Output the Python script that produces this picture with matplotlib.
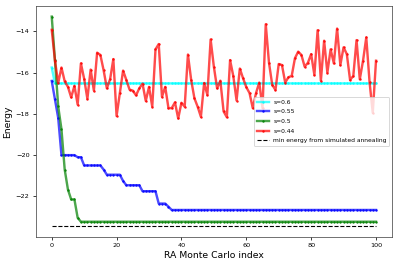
import numpy as np
import matplotlib
matplotlib.use('Agg')
import matplotlib.pyplot as plt

# energies, one value per RA Monte Carlo step (0..100)
e_s060 = [-15.75] + [-16.52] * 100

e_s055 = [-16.4, -17.3, -18.2, -20.0, -20.0, -20.0, -20.0, -20.0, -20.1, -20.1,
          -20.5, -20.5, -20.5, -20.5, -20.5, -20.5, -20.7, -20.95, -20.95, -20.95,
          -20.95, -20.95, -21.25, -21.46, -21.46, -21.46, -21.46, -21.46, -21.75, -21.75,
          -21.75, -21.75, -21.75, -22.35, -22.35, -22.35, -22.5] + [-22.66] * 64

e_s050 = [-13.28, -15.4, -17.64, -18.74, -20.7, -21.67, -22.15, -22.15, -23.04] + [-23.23] * 92

e_s044 = [-13.92, -15.42, -16.5, -15.75, -16.42, -16.69, -17.2, -16.64, -17.55, -15.55,
          -16.3, -17.27, -15.85, -16.87, -15.03, -15.14, -15.88, -16.76, -16.32, -15.34,
          -18.1, -17.0, -15.9, -16.35, -16.82, -16.87, -17.1, -16.76, -16.53, -17.37,
          -16.69, -17.65, -14.87, -14.61, -17.17, -16.69, -17.72, -17.72, -17.44, -18.22,
          -17.46, -17.65, -15.12, -16.35, -17.24, -17.65, -18.14, -16.5, -17.08, -14.39,
          -15.71, -16.76, -16.39, -17.88, -18.16, -15.39, -16.17, -17.35, -15.8, -16.27,
          -16.7, -16.99, -17.72, -16.99, -16.48, -17.72, -13.65, -15.52, -16.59, -16.84,
          -15.58, -15.63, -16.48, -16.22, -16.16, -15.3, -14.98, -15.14, -15.71, -15.52,
          -15.1, -16.11, -13.94, -16.39, -14.45, -16.0, -14.87, -15.55, -13.86, -15.63,
          -14.77, -15.1, -16.35, -16.16, -14.42, -16.32, -15.42, -14.29, -16.43, -17.95,
          -15.42]

sa_min = -23.45

series = [(e_s060, 'cyan', 's=0.6'),
          (e_s055, 'blue', 's=0.55'),
          (e_s050, 'green', 's=0.5'),
          (e_s044, 'red', 's=0.44')]

fig = plt.figure(figsize=(6, 4), dpi=66.5)
ax = fig.add_axes([0.089, 0.110, 0.894, 0.867])
idx = np.arange(len(e_s044))
for vals, col, lab in series:
    ax.plot(idx, vals, '.-', color=col, alpha=0.7, lw=2.6, ms=3.5, label=lab)
ax.plot(idx, [sa_min] * len(idx), 'k--', lw=1.2, label='min energy from simulated annealing')

ax.set_xlabel('RA Monte Carlo index', fontsize=10)
ax.set_ylabel('Energy', fontsize=10)
ax.tick_params(labelsize=7, length=3)
for sp in ax.spines.values():
    sp.set_color('#444444')
ax.legend(loc='center right', fontsize=6.5, labelspacing=0.75)

fig.savefig('out.png', dpi=66.5)
